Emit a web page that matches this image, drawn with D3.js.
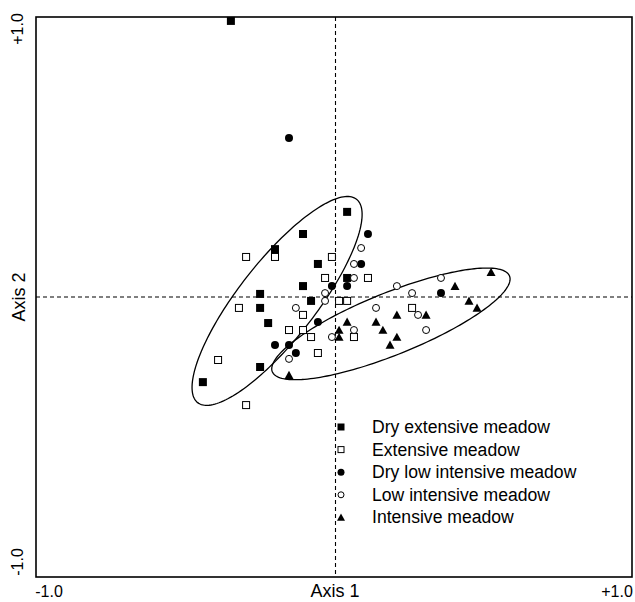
<!DOCTYPE html>
<html><head><meta charset="utf-8">
<script src="https://cdn.jsdelivr.net/npm/d3@7"></script>
<style>body{margin:0;background:#fff}svg{display:block}text{font-family:"Liberation Sans",Arial,sans-serif;fill:#000}</style>
</head><body><svg id="c" width="635" height="602"></svg>
<script>
const seriesNames = ["Dry extensive meadow","Extensive meadow","Dry low intensive meadow","Low intensive meadow","Intensive meadow"];
const dryExtensive = [[-0.346,0.986],[0.044,0.304],[-0.104,0.225],[-0.198,0.171],[-0.054,0.118],[0.044,0.068],[-0.104,0.039],[-0.248,0.011],[-0.077,-0.014],[-0.248,-0.039],[-0.221,-0.093],[-0.248,-0.250],[-0.440,-0.304]];
const extensive = [[-0.295,0.143],[-0.198,0.143],[-0.007,0.143],[-0.030,0.068],[0.114,0.068],[0.017,-0.014],[0.044,-0.014],[-0.319,-0.039],[-0.104,-0.064],[-0.151,-0.118],[-0.104,-0.118],[-0.077,-0.143],[0.067,-0.143],[-0.054,-0.200],[-0.389,-0.225],[-0.295,-0.386],[0.262,-0.039]];
const dryLowIntensive = [[-0.151,0.568],[0.114,0.225],[0.091,0.118],[0.044,0.039],[-0.007,0.039],[0.359,0.014],[-0.054,-0.089],[-0.198,-0.171],[-0.151,-0.171],[-0.128,-0.200]];
const lowIntensive = [[0.091,0.175],[0.067,0.118],[0.067,0.068],[-0.030,0.014],[-0.030,-0.014],[-0.128,-0.039],[0.141,-0.039],[0.211,0.039],[0.262,0.014],[0.359,0.068],[0.282,-0.064],[0.309,-0.118],[0.067,-0.118],[-0.007,-0.143],[-0.151,-0.221]];
const intensive = [[0.527,0.089],[0.406,0.039],[0.453,-0.014],[0.480,-0.039],[0.309,-0.064],[0.211,-0.064],[0.141,-0.089],[0.164,-0.118],[0.211,-0.143],[0.188,-0.171],[0.044,-0.089],[0.017,-0.118],[0.017,-0.143],[-0.151,-0.279]];
// ellipses: center, semi-axis vector u, semi-axis vector v (data units)
const ellipseCenters = [[-0.191,-0.014],[0.191,-0.096]];
const ellipseU = [[0.2665,0.3632],[0.398,0.171]];
const ellipseV = [[0.1020,-0.0850],[0.039,-0.1026]];
const tickLabels = ["-1.0","+1.0"];
const axisTitles = ["Axis 1","Axis 2"];

const svg = d3.select("#c");
const L=36,R=632,T=17,B=577;
const x = d3.scaleLinear().domain([-1,1]).range([L,R]);
const y = d3.scaleLinear().domain([-1,1]).range([B,T]);

// dashed zero lines
svg.append("line").attr("x1",x(0)+1.5).attr("x2",x(0)+1.5).attr("y1",T).attr("y2",B)
  .attr("stroke","#000").attr("stroke-width",1.1).attr("stroke-dasharray","4,3");
svg.append("line").attr("x1",L).attr("x2",R).attr("y1",y(0)).attr("y2",y(0))
  .attr("stroke","#000").attr("stroke-width",1.1).attr("stroke-dasharray","4,3");

// ellipses
const line = d3.line().x(d=>x(d[0])).y(d=>y(d[1])).curve(d3.curveLinearClosed);
ellipseCenters.forEach((c,i)=>{
  const pts = d3.range(0,360,2).map(a=>{const t=a*Math.PI/180;
    return [c[0]+ellipseU[i][0]*Math.cos(t)+ellipseV[i][0]*Math.sin(t), c[1]+ellipseU[i][1]*Math.cos(t)+ellipseV[i][1]*Math.sin(t)];});
  svg.append("path").attr("d",line(pts)).attr("fill","none").attr("stroke","#000").attr("stroke-width",1.3);
});

// frame
svg.append("rect").attr("x",L).attr("y",T).attr("width",R-L).attr("height",B-T)
  .attr("fill","none").attr("stroke","#000").attr("stroke-width",1.6);

const data = [dryExtensive,extensive,dryLowIntensive,lowIntensive,intensive];
function marker(g,k,cx,cy,s){
  if(k===0) g.append("rect").attr("x",cx-s/2).attr("y",cy-s/2).attr("width",s).attr("height",s).attr("fill","#000");
  else if(k===1) g.append("rect").attr("x",cx-s/2+0.5).attr("y",cy-s/2+0.5).attr("width",s-1).attr("height",s-1).attr("fill","#fff").attr("stroke","#000").attr("stroke-width",1);
  else if(k===2) g.append("circle").attr("cx",cx).attr("cy",cy).attr("r",s/2).attr("fill","#000");
  else if(k===3) g.append("circle").attr("cx",cx).attr("cy",cy).attr("r",s/2-0.5).attr("fill","#fff").attr("stroke","#000").attr("stroke-width",1);
  else { const h=s*0.95; g.append("path").attr("d",`M${cx},${cy-h/2-0.5}L${cx+s/2+0.5},${cy+h/2}L${cx-s/2-0.5},${cy+h/2}Z`).attr("fill","#000"); }
}
const gp = svg.append("g");
data.forEach((arr,k)=>arr.forEach(d=>marker(gp,k,x(d[0]),y(d[1]),8)));

// legend
const lg = svg.append("g");
seriesNames.forEach((n,i)=>{
  const yy = 427 + i*22.6;
  marker(lg,i,341,yy,7);
  lg.append("text").attr("x",372).attr("y",yy+6).attr("font-size",17.6).text(n);
});

// tick labels
svg.append("text").attr("x",49).attr("y",597).attr("text-anchor","middle").attr("font-size",16).text(tickLabels[0]);
svg.append("text").attr("x",617).attr("y",597).attr("text-anchor","middle").attr("font-size",16).text(tickLabels[1]);
svg.append("text").attr("transform","translate(23,562) rotate(-90)").attr("text-anchor","middle").attr("font-size",16).text(tickLabels[0]);
svg.append("text").attr("transform","translate(23,29) rotate(-90)").attr("text-anchor","middle").attr("font-size",16).text(tickLabels[1]);
// axis titles
svg.append("text").attr("x",335).attr("y",597).attr("text-anchor","middle").attr("font-size",18).text(axisTitles[0]);
svg.append("text").attr("transform","translate(25,297) rotate(-90)").attr("text-anchor","middle").attr("font-size",18).text(axisTitles[1]);
</script></body></html>
